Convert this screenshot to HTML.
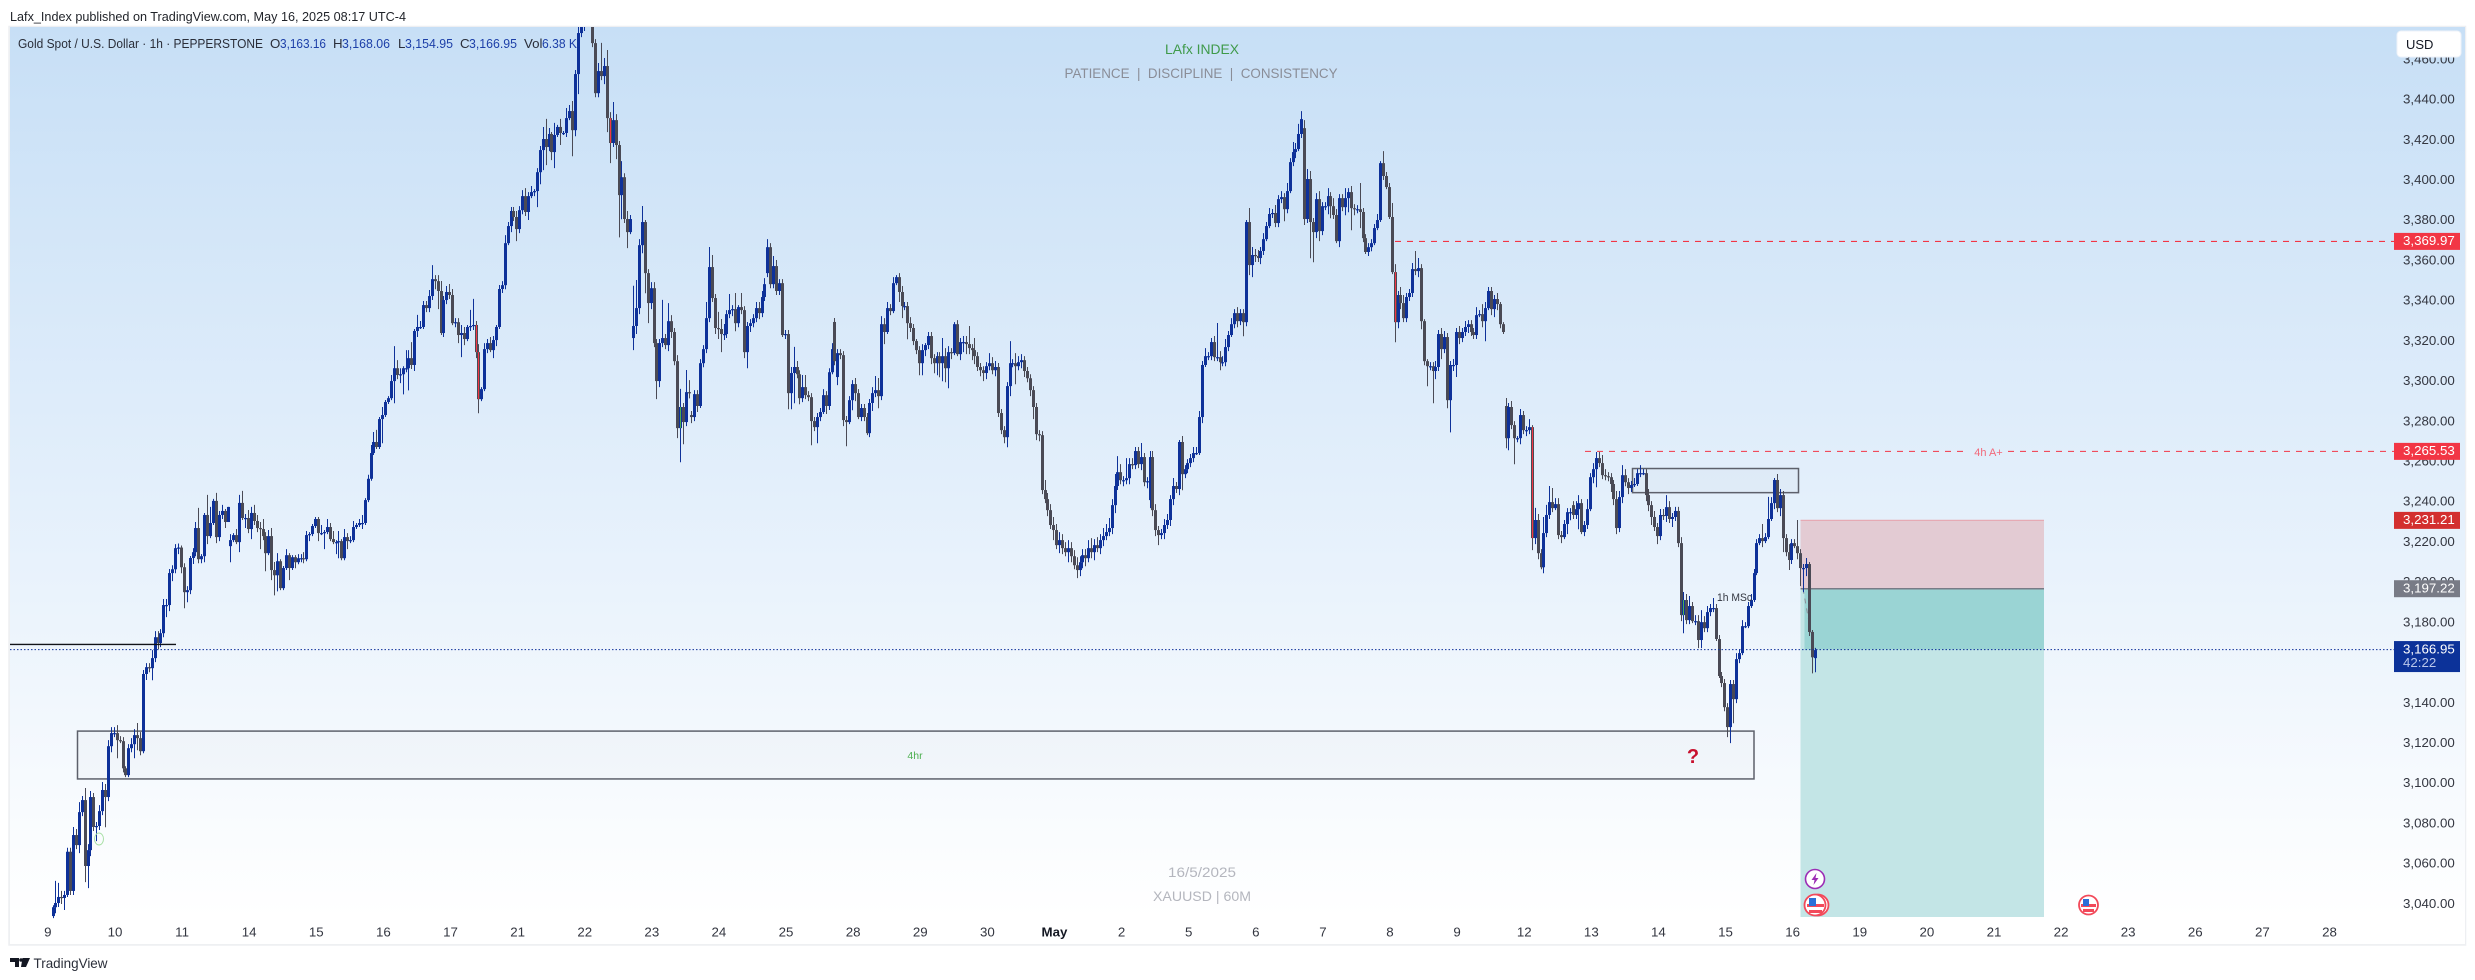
<!DOCTYPE html>
<html lang="en">
<head>
<meta charset="utf-8">
<title>Gold Spot / U.S. Dollar 1h chart</title>
<style>
html,body{margin:0;padding:0;background:#fff;width:2475px;height:980px;overflow:hidden}
svg{display:block;font-family:"Liberation Sans",sans-serif}
</style>
</head>
<body>
<svg id="chart" xmlns="http://www.w3.org/2000/svg" width="2475" height="980" viewBox="0 0 2475 980">
  <defs>
    <linearGradient id="paneBg" x1="0" y1="0" x2="0" y2="1">
      <stop offset="0" stop-color="#c7dff6"/>
      <stop offset="0.5" stop-color="#e3effb"/>
      <stop offset="0.97" stop-color="#ffffff"/>
      <stop offset="1" stop-color="#ffffff"/>
    </linearGradient>
    <clipPath id="paneClip"><rect x="10" y="27" width="2384" height="917"/></clipPath>
  </defs>

  <rect x="0" y="0" width="2475" height="980" fill="#ffffff"/>
  <text x="10" y="21" font-size="13.2" fill="#1f2228" textLength="396" lengthAdjust="spacingAndGlyphs">Lafx_Index published on TradingView.com, May 16, 2025 08:17 UTC-4</text>

  <rect x="9" y="26.5" width="2456.5" height="918.5" fill="#f0f1f4" stroke="#eeeff2" stroke-width="1.5"/>
  <rect x="10" y="27" width="2455" height="917" fill="url(#paneBg)"/>

  <g id="drawingsUnder" clip-path="url(#paneClip)"></g>
  <g id="candles" clip-path="url(#paneClip)"></g>
  <g id="drawingsOver"></g>
  <g id="xAxis"></g>
  <g id="yAxis"></g>
  <g id="badges"></g>

  <g font-size="13.3">
    <text x="18" y="48" fill="#2a2e39" textLength="245" lengthAdjust="spacingAndGlyphs">Gold Spot / U.S. Dollar · 1h · PEPPERSTONE</text>
    <text x="270" y="48" fill="#2a2e39">O</text>
    <text x="280" y="48" fill="#1c3fa8" textLength="46" lengthAdjust="spacingAndGlyphs">3,163.16</text>
    <text x="333" y="48" fill="#2a2e39">H</text>
    <text x="342" y="48" fill="#1c3fa8" textLength="48" lengthAdjust="spacingAndGlyphs">3,168.06</text>
    <text x="398" y="48" fill="#2a2e39">L</text>
    <text x="405" y="48" fill="#1c3fa8" textLength="48" lengthAdjust="spacingAndGlyphs">3,154.95</text>
    <text x="460" y="48" fill="#2a2e39">C</text>
    <text x="469" y="48" fill="#1c3fa8" textLength="48" lengthAdjust="spacingAndGlyphs">3,166.95</text>
    <text x="524" y="48" fill="#2a2e39">Vol</text>
    <text x="542" y="48" fill="#1c3fa8" textLength="35" lengthAdjust="spacingAndGlyphs">6.38 K</text>
  </g>

  <text x="1202" y="54" font-size="14" fill="#3f9a4a" text-anchor="middle" textLength="74" lengthAdjust="spacingAndGlyphs">LAfx INDEX</text>
  <text x="1201" y="78" font-size="14" fill="#8a8d97" text-anchor="middle" textLength="273" lengthAdjust="spacingAndGlyphs">PATIENCE&#160;&#160;|&#160;&#160;DISCIPLINE&#160;&#160;|&#160;&#160;CONSISTENCY</text>
  <text x="1202" y="877" font-size="14" fill="#b4b6be" text-anchor="middle" textLength="68" lengthAdjust="spacingAndGlyphs">16/5/2025</text>
  <text x="1202" y="901" font-size="14" fill="#b4b6be" text-anchor="middle" textLength="98" lengthAdjust="spacingAndGlyphs">XAUUSD | 60M</text>

  <g>
    <rect x="2397" y="31" width="64" height="26" rx="4" fill="#ffffff" stroke="#eef2f8"/>
    <text x="2406" y="49" font-size="13" fill="#131722">USD</text>
  </g>

  <g>
    <circle cx="1815" cy="879" r="9.5" fill="#ffffff" stroke="#9c2db5" stroke-width="1.6"/>
    <polygon points="1816.5,873 1811.5,880 1814.5,880 1813.5,885 1818.5,878 1815.5,878" fill="#9c2db5"/>
  </g>
  <g>
    <circle cx="1818" cy="905" r="10.5" fill="#ffffff" stroke="#f2495a" stroke-width="1.8"/>
    <circle cx="1815" cy="905" r="10.5" fill="#ffffff" stroke="#f2495a" stroke-width="1.8"/>
    <rect x="1807" y="904" width="17" height="3" fill="#f2495a"/>
    <rect x="1809" y="910" width="13" height="3" fill="#f2495a"/>
    <rect x="1809" y="898" width="7" height="8" fill="#2a6fd8"/>
  </g>
  <g>
    <circle cx="2088.5" cy="905" r="9.5" fill="#ffffff" stroke="#f2495a" stroke-width="1.8"/>
    <rect x="2081" y="904" width="15" height="3" fill="#f2495a"/>
    <rect x="2083" y="909" width="11" height="3" fill="#f2495a"/>
    <rect x="2083" y="899" width="6" height="7" fill="#2a6fd8"/>
  </g>

  <g>
    <path d="M10 958h9v9h-4v-5h-5z M22.5 958h7.5l-4 9h-5z" fill="#131722"/>
    <circle cx="21" cy="960" r="1.8" fill="#131722"/>
    <text x="33.5" y="968" font-size="14" fill="#2a2e39" textLength="74" lengthAdjust="spacingAndGlyphs">TradingView</text>
  </g>

<script>
// ---------- chart data ----------
var closes = [
3037.9,3040,3043,3042.5,3044,3065.5,3046,3073.8,3068.8,3085.2,
3091.2,3058.4,3066.3,3092.7,3077.8,3078.3,3085.7,3096.2,3092.7,3118,
3124.5,3124.5,3121,3120.5,3107,3103.6,3117,3119,3123.5,3122,
3115.5,3153.9,3157.3,3156.8,3161.8,3172.2,3169.3,3174.2,3188.2,3188.2,
3204.1,3206,3216.5,3216.8,3207,3194.6,3195.6,3211.6,3214.5,3226.5,
3211,3212.5,3233,3222.5,3229,3240,3222,3233,3235,3229.5,
3237,3220.5,3223,3219.5,3239,3231.5,3231.5,3226,3234,3230,
3226.5,3226,3222.5,3214,3222.5,3205.6,3203,3210,3196.6,3206.6,
3213,3206.6,3212,3209.5,3211.5,3211.5,3211,3223,3223.5,3227.5,
3231,3224,3224,3224.5,3227,3221,3219.5,3219.5,3220,3211.5,
3222,3220,3220.5,3227,3228,3229,3229,3240.4,3251,3263.8,
3269.3,3266.8,3280.7,3282.7,3289.2,3291.1,3299.6,3306,3302.6,3303,
3306,3306,3311,3307.6,3324.5,3326.5,3326.5,3337.4,3335.9,3341.9,
3350.3,3349.3,3344.4,3323.5,3339.9,3343.9,3342.4,3328.4,3328.9,3322.5,
3323.5,3320.5,3326.5,3327,3327.5,3314,3290.6,3295.6,3315.5,3318.5,
3315,3320,3326.5,3345.4,3347.3,3368.2,3376.7,3384.2,3381.2,3375.2,
3384.6,3391.6,3383.7,3391.6,3393.6,3394.1,3403.5,3414.5,3420,3416,
3422.5,3413.5,3422,3426,3423,3423,3430.4,3433.9,3424.4,3452.3,
3472.7,3475.7,3483,3486.6,3485,3467.7,3442.8,3453.8,3451.3,3456.3,
3430.4,3418,3429.4,3417,3392.1,3401,3380.2,3373.7,3380.2,3327,
3335.9,3367.2,3378.7,3353.3,3338.4,3345.8,3318.5,3299.6,3318.5,3321,
3317.5,3329.4,3324,3309.5,3276.2,3286.7,3279.2,3294.1,3294,3281.7,
3293.1,3287.2,3308.5,3315.5,3330.9,3356.3,3340.9,3326,3325.5,3323,
3323,3332.9,3334.9,3335.4,3328.4,3336.4,3334.9,3314,3327,3328.4,
3330.9,3335.9,3333.4,3341.4,3347.8,3366.2,3347.8,3356.8,3344.4,3348.3,
3322.5,3323,3293.6,3303.6,3306.6,3303,3291.1,3296.6,3292.6,3291.6,
3279.7,3276.7,3281.7,3284.2,3292.6,3287.2,3304,3315.5,3309.5,3313.5,
3312.5,3280.2,3279.2,3290.1,3298.1,3293.6,3281.7,3286.2,3281.7,3273.7,
3288.7,3293.6,3295.1,3292.1,3327.9,3324,3335.9,3334.4,3348.3,3351.3,
3343.9,3336.9,3336.9,3328.4,3326,3319.5,3315,3308.5,3315,3317.5,
3322,3311,3308.5,3312,3308.5,3312,3306,3314,3313.5,3327.9,
3313,3319,3319,3318,3316,3315,3312,3306.6,3305,3303.6,
3307,3308.5,3305,3306.6,3283.7,3275.2,3271.7,3297.1,3308.5,3308.5,
3307,3309,3310,3304.6,3301,3295.1,3286.7,3273.2,3272.7,3245.4,
3240.9,3235.4,3228,3225.5,3218,3220.5,3216.5,3214.5,3216.5,3212.5,
3208,3205.6,3209.5,3213,3211.5,3216.5,3214.5,3218,3216.5,3220.5,
3222.5,3224.5,3226.5,3237.9,3247.4,3254.3,3250.3,3250.3,3251.3,3258.3,
3257.8,3264.8,3258.3,3261.8,3249.3,3249.8,3261.8,3235.4,3225.5,3223,
3224,3228,3230.5,3240.9,3247.4,3245.9,3269.3,3253.3,3255.8,3258.8,
3261.3,3263.8,3263.8,3281.7,3307.6,3312,3312,3319,3311.5,3311.5,
3309,3309,3316.5,3322.5,3327.9,3333.4,3329.4,3333.4,3328.9,3378.7,
3357.3,3362.3,3361.8,3360.8,3364.3,3370.2,3376.7,3382.7,3383.2,3378.2,
3390.1,3391.1,3385.1,3394.1,3408.5,3413.5,3415,3422.5,3429.9,3380.2,
3400.1,3378.7,3373.7,3390.1,3374.2,3386.6,3386.6,3391.6,3386.6,3382.2,
3369.2,3390.6,3386.1,3390.6,3393.6,3385.6,3385.1,3385.1,3383.7,3370.7,
3363.8,3366.2,3368.2,3375.7,3379.7,3408,3401.6,3396.1,3381.2,3353.8,
3328.9,3342.4,3338.4,3330.9,3341.4,3343.4,3355.3,3354.3,3355.8,3329.4,
3309.5,3307,3307,3304.6,3306.6,3323,3315.5,3321.5,3290.1,3307.6,
3307.6,3324,3321,3324,3326.5,3327.9,3324,3322.5,3332.4,3332.9,
3329.4,3335.9,3344.4,3335.4,3340.4,3337.9,3327.9,3324,3271.2,3286.7,
3277.7,3271.2,3271.2,3282.7,3275.2,3275.2,3276.7,3221.5,3230.5,3214,
3207,3224,3233,3239.4,3236.4,3238.4,3223,3222,3228.5,3234.4,
3234.4,3233,3235.9,3238.9,3224.5,3228,3235.9,3251.8,3255.8,3261.3,
3258.8,3252.8,3252.3,3251.8,3248.4,3240.9,3226.5,3241.9,3252.8,3249.3,
3246.4,3247.9,3248.4,3253.8,3253.8,3253.8,3242.9,3237.9,3232,3227,
3222.5,3233,3232.5,3236.9,3231,3232,3235,3219,3183.2,3190.7,
3180.7,3187.7,3180.2,3180.2,3170.8,3179.7,3176.7,3184.7,3186.7,3186.7,
3171.3,3152.9,3149.4,3137.4,3127.5,3148.9,3141.4,3161.3,3164.3,3177.7,
3177.7,3187.7,3190.7,3204.1,3219,3221.5,3220,3222,3231,3238.9,
3250.4,3236.4,3242.9,3221.5,3214.5,3210.6,3219,3217.5,3214,3206.6,
3206.6,3208.6,3174.8,3162.2,3165.8
];
var upperWicks = [
1,11,7,3,2,2,2,4,3,5, 2,6,3,3,2,2,3,4,3,3, 3,3,4,2,2,1,2,3,3,6, 3,2,2,2,4,3,3,2,3,3,
2,2,2,2,1,2,2,1,2,3, 10,1,1,10,8,1,4,2,3,1, 0,3,1,3,4,6,2,4,3,4, 3,3,5,2,3,4,4,4,1,1,
3,1,1,1,2,2,3,2,1,1, 1,1,4,1,4,2,4,1,5,1, 4,2,2,3,1,2,4,1,2,4, 5,6,1,4,1,1,3,11,4,3,
1,9,4,8,1,6,3,2,2,3, 7,2,3,5,2,3,4,3,2,2, 4,3,1,8,13,2,4,1,3,2, 3,2,1,2,2,4,2,2,2,3,
2,3,4,2,3,1,2,2,6,10, 3,1,6,1,4,1,5,3,5,2, 3,4,4,3,3,3,2,4,14,4, 8,3,9,3,2,8,2,4,2,20,
14,3,8,1,2,3,3,2,2,19, 2,9,3,2,3,9,2,11,6,2, 2,2,2,2,8,10,6,2,8,5, 5,2,8,2,8,1,7,2,2,2,
2,3,3,3,3,4,2,5,3,2, 2,2,2,3,10,3,2,6,6,2, 2,2,2,2,3,2,2,3,2,2, 2,2,2,2,2,3,2,2,2,2,
2,3,7,6,4,3,3,2,3,1, 2,3,2,2,3,2,1,2,3,1, 2,2,2,2,2,9,4,3,2,1, 2,2,3,3,9,2,6,2,2,2,
2,5,3,3,2,2,2,2,11,2, 5,3,3,2,2,2,2,2,2,2, 5,3,3,4,3,4,3,3,4,3, 3,4,3,3,3,4,5,3,4,3,
4,4,5,3,6,8,4,2,10,3, 3,2,2,7,2,2,3,3,3,2, 2,3,3,2,4,2,1,3,2,2, 2,3,3,3,2,4,2,2,3,17,
3,3,4,2,3,2,3,2,2,1, 7,4,3,3,2,3,2,3,2,4, 2,3,2,4,2,5,3,5,4,4, 5,4,2,3,4,2,2,4,2,4,
3,2,2,5,2,3,2,2,13,2, 2,2,2,2,3,1,6,2,2,7, 4,2,4,4,2,2,3,9,5,2, 1,1,2,2,3,2,3,3,2,2,
3,2,3,2,3,2,2,2,4,2, 5,3,2,2,2,3,1,1,4,2, 3,2,1,3,2,2,4,1,6,3, 2,8,5,8,7,3,3,2,2,2,
2,2,4,4,2,2,5,2,3,3, 3,4,3,2,2,2,4,3,5,3, 2,2,3,2,4,2,2,3,2,3, 2,3,3,6,3,2,2,2,3,4,
3,5,2,3,3,6,3,3,2,5, 2,2,2,2,2,2,2,3,2,3, 2,2,3,2,2,2,7,2,11,3, 1,3,3,2,2,4,2,2,13,2,
2,3,1,1,1.11
];
var lowerWicks = [
1,3,2,3,6,1,2,2,2,4, 2,8,11,3,2,7,2,2,15,2, 3,2,9,1,2,1,1,2,7,6, 2,1,3,2,6,2,3,2,2,6,
3,4,2,3,3,8,5,2,3,2, 2,2,3,4,1,1,3,2,2,3, 0,8,1,1,5,1,5,2,5,2, 2,10,2,9,1,5,10,8,1,1,
1,6,1,3,1,2,2,1,3,1, 1,4,1,8,1,1,1,6,8,1, 1,4,1,1,1,1,3,1,1,1, 1,1,1,12,1,1,1,11,2,4,
10,2,11,2,3,3,1,1,2,2, 2,4,9,1,2,2,2,1,2,4, 11,3,1,2,2,3,7,1,1,2, 1,4,3,1,2,2,1,3,2,6,
2,2,2,4,1,2,8,6,10,9, 2,4,8,1,6,1,2,1,13,3, 10,2,2,2,2,2,2,2,2,4, 7,10,2,7,21,12,2,8,1,6,
4,3,4,10,10,3,2,9,3,2, 2,3,3,2,5,17,11,2,3,3, 2,3,1,2,2,2,2,3,5,9, 3,2,2,3,4,2,2,3,8,3,
2,2,3,2,2,2,2,2,2,2, 1,2,8,8,15,2,3,2,2,2, 12,2,8,2,1,4,2,1,2,4, 2,3,12,1,5,4,1,2,2,1,
2,4,2,6,2,6,1,2,1,1, 5,6,2,8,2,2,2,6,6,3, 2,3,5,6,7,9,7,10,3,1, 1,3,5,5,3,5,4,2,3,4,
3,2,2,3,2,2,3,5,5,2, 9,2,3,3,2,3,6,3,3,2, 2,3,2,5,2,4,3,2,5,3, 2,4,3,3,4,2,3,4,2,3,
3,2,2,3,4,2,2,3,2,3, 2,2,2,3,2,3,4,3,3,5, 2,3,2,3,3,2,3,8,2,2, 2,2,1,1,3,1,2,2,2,2,
4,2,2,2,1,2,3,2,7,2, 5,6,3,2,3,2,1,1,2,2, 2,2,6,2,1,2,3,1,2,3, 2,18,15,3,5,2,2,4,6,2,
1,3,2,4,7,11,3,2,8,2, 1,2,2,1,1,1,2,1,1,1, 10,3,3,2,2,2,2,2,3,4, 2,10,2,16,4,2,5,2,4,16,
3,6,3,2,2,3,2,2,2,1, 3,10,1,3,4,3,2,1,5,6, 2,13,2,3,2,3,2,6,3,3, 1,3,2,2,2,1,2,3,1,5,
4,2,2,10,1,2,2,1,3,9, 2,2,2,2,4,3,3,2,3,2, 3,2,1,1,2,1,3,3,4,2, 4,2,2,3,2,4,2,2,3,9,
2,2,1,2,4,4,2,2,2,2, 1,1,2,2,5,8,12,2,2,1, 1,1,1,1,1,1,3,1,1,1, 3,2,4,7,2,5,2,1,3,9,
12,4,2,8,7
];
// opens follow the previous close except where the picture shows a gap
var gapOpenBars = [0,61,199,219,245,268,269,376,429,498,521,604];
var gapOpenPrices = [3033.5,3217.5,3321,3282.7,3353.3,3329,3301.6,3240.4,3425.4,3287.2,3237.9,3161.8];
var redPaintedBars = [145,146,191,460,507];
var greenPaintedBars = [215,559];
var priceTicks = [3460,3440,3420,3400,3380,3360,3340,3320,3300,3280,3260,3240,3220,3200,3180,3140,3120,3100,3080,3060,3040];
var timeLabels = ["9","10","11","14","15","16","17","21","22","23","24","25","28","29","30","May","2","5","6","7","8","9","12","13","14","15","16","19","20","21","22","23","26","27","28"];
var swingHighLevel = 3369.97;
var fourHourLevel = 3265.53;
var stopLevel = 3231.21;
var entryLevel = 3197.22;
var lastPrice = 3166.95;
var oldSupportLevel = 3169.5;
var countdownText = "42:22";

// ---------- axis functions ----------
var NS = "http://www.w3.org/2000/svg";
function xScale(i){ return 53 + 2.9177 * i; }
function yScale(p){ return 903 - (p - 3040) * 2.0105; }
// horizontal levels and their badges sit a little under the tick-label centre line
function levelY(p){ return yScale(p) + 1.8; }
function timeLabelX(k){ return xScale(-2 + 23 * k) + 0.7; }
function fmtPrice(p){
  var s = p.toFixed(2);
  return s.charAt(0) + "," + s.slice(1);
}
function make(tag, attrs, parent){
  var el = document.createElementNS(NS, tag);
  for (var k in attrs) el.setAttribute(k, attrs[k]);
  parent.appendChild(el);
  return el;
}

var under = document.getElementById("drawingsUnder");
var over = document.getElementById("drawingsOver");
var candleLayer = document.getElementById("candles");
var xAxis = document.getElementById("xAxis");
var yAxis = document.getElementById("yAxis");
var badgeLayer = document.getElementById("badges");

// ---------- drawings beneath candles ----------
var zone4h = make("rect", {x:77.5, y:levelY(3126.4), width:1676.5, height:levelY(3102.6)-levelY(3126.4), fill:"rgba(120,123,134,0.03)", stroke:"#5d606b", "stroke-width":1.5}, under);



var zoneTop = make("rect", {x:1632.5, y:levelY(3257), width:166, height:levelY(3245)-levelY(3257), fill:"rgba(120,123,134,0.03)", stroke:"#5d606b", "stroke-width":1.5}, under);



var stopZone = make("rect", {x:1800.5, y:levelY(stopLevel), width:243.5, height:levelY(entryLevel)-levelY(stopLevel), fill:"#e3cbd3"}, under);



var stopEdge = make("line", {x1:1800.5, x2:2044, y1:levelY(stopLevel), y2:levelY(stopLevel), stroke:"#e6aab4", "stroke-width":1.2}, under);



var targetZone = make("rect", {x:1800.5, y:levelY(entryLevel), width:243.5, height:917-levelY(entryLevel), fill:"#c3e5e6"}, under);



var runZone = make("rect", {x:1804.5, y:levelY(entryLevel), width:239.5, height:levelY(lastPrice)-levelY(entryLevel), fill:"#9ad4d4"}, under);



var entryLine = make("line", {x1:1800.5, x2:2044, y1:levelY(entryLevel), y2:levelY(entryLevel), stroke:"#787b86", "stroke-width":1.5}, under);



var path1 = make("line", {x1:1803, x2:1814, y1:levelY(entryLevel), y2:levelY(lastPrice), stroke:"#8a8d97", "stroke-width":1, "stroke-dasharray":"5 5"}, under);



var swingLine = make("line", {x1:1395, x2:2394, y1:levelY(swingHighLevel), y2:levelY(swingHighLevel), stroke:"#f23645", "stroke-width":1.1, "stroke-dasharray":"6 6"}, under);



var fourHLine = make("line", {x1:1585, x2:1968, y1:levelY(fourHourLevel), y2:levelY(fourHourLevel), stroke:"#f23645", "stroke-width":1.1, "stroke-dasharray":"6 6"}, under);



var fourHLine2 = make("line", {x1:2008, x2:2394, y1:levelY(fourHourLevel), y2:levelY(fourHourLevel), stroke:"#f23645", "stroke-width":1.1, "stroke-dasharray":"6 6"}, under);



// ---------- candles ----------
var blue = "#0e3199";
var grey = "#4a4a55";
closes.forEach(function(c, i){
  var gapAt = gapOpenBars.indexOf(i);
  var o = gapAt >= 0 ? gapOpenPrices[gapAt] : closes[i - 1];
  var top = Math.max(o, c);
  var bot = Math.min(o, c);
  var col = c >= o ? blue : grey;
  var cx = xScale(i);
  var wx = Math.round(cx - 0.5) + 0.5;
  var wick = make("line", {x1:wx, x2:wx, y1:yScale(top + (upperWicks[i] || 0)), y2:yScale(bot - (lowerWicks[i] || 0)), stroke:col, "stroke-width":1}, candleLayer);
  
  
  var h = Math.max(yScale(bot) - yScale(top), 1.2);
  var body = make("rect", {x:wx - 1.5, y:yScale(top), width:3, height:h, fill:col}, candleLayer);
  
  
  var paint = redPaintedBars.indexOf(i) >= 0 ? "#f23645" : (greenPaintedBars.indexOf(i) >= 0 ? "#4caf50" : null);
  if (paint) {
    var mark = make("rect", {x:wx - 0.5, y:yScale(top), width:1, height:h, fill:paint}, candleLayer);
    
    
  }
});

// ---------- drawings above candles ----------
var oldLine = make("line", {x1:10, x2:176, y1:levelY(oldSupportLevel), y2:levelY(oldSupportLevel), stroke:"#111318", "stroke-width":1.4}, over);



var lastLine = make("line", {x1:10, x2:2394, y1:levelY(lastPrice), y2:levelY(lastPrice), stroke:"#0e3199", "stroke-width":1, "stroke-dasharray":"1.5 2"}, over);



var circ = make("ellipse", {cx:99, cy:839, rx:4.5, ry:6, fill:"none", stroke:"#a9e0a6", "stroke-width":1}, over);



var lbl4hr = make("text", {x:915, y:759, "font-size":10.5, fill:"#4caf50", "text-anchor":"middle"}, over);


lbl4hr.textContent = "4hr";

var lbl4hA = make("text", {x:1988.5, y:456, "font-size":11, fill:"#f2697a", "text-anchor":"middle"}, over);


lbl4hA.textContent = "4h A+";

var lblMsc = make("text", {x:1717, y:601, "font-size":11, fill:"#333640", textLength:35, lengthAdjust:"spacingAndGlyphs"}, over);


lblMsc.textContent = "1h MSc";

var q = make("text", {x:1693, y:763, "font-size":20, "font-weight":"bold", fill:"#c8102e", "text-anchor":"middle"}, over);


q.textContent = "?";

// ---------- axes ----------
priceTicks.forEach(function(p){
  var t = make("text", {x:2403, y:yScale(p) + 4.8, "font-size":13.3, fill:"#333640"}, yAxis);
  
  
  t.textContent = fmtPrice(p);
});
timeLabels.forEach(function(label, k){
  var isMonth = label === "May";
  var t = make("text", {x:timeLabelX(k), y:936.5, "font-size":13.3, fill:isMonth ? "#131722" : "#333640", "text-anchor":"middle", "font-weight":isMonth ? "bold" : "normal"}, xAxis);
  
  
  t.textContent = label;
});

// ---------- price badges ----------
var badgePrices = [swingHighLevel, fourHourLevel, stopLevel, entryLevel];
var badgeColors = ["#f23645", "#f23645", "#d32f2f", "#787b86"];
var badgeNames = ["swing-high-price-badge", "four-hour-price-badge", "stop-price-badge", "entry-price-badge"];
badgePrices.forEach(function(p, k){
  var yc = levelY(p);
  var r = make("rect", {x:2394, y:yc - 8.5, width:66, height:17, fill:badgeColors[k]}, badgeLayer);
  
  
  var t = make("text", {x:2403, y:yc + 3.8, "font-size":13.3, fill:"#ffffff"}, badgeLayer);
  
  
  t.textContent = fmtPrice(p);
});
var lastY = levelY(lastPrice);
var lastBox = make("rect", {x:2394, y:lastY - 8.5, width:66, height:31, fill:"#0c3299"}, badgeLayer);


var lastText = make("text", {x:2403, y:lastY + 3.8, "font-size":13.3, fill:"#ffffff"}, badgeLayer);


lastText.textContent = fmtPrice(lastPrice);
var cd = make("text", {x:2403, y:lastY + 17.5, "font-size":13.3, fill:"#b9c6ea"}, badgeLayer);


cd.textContent = countdownText;
</script>
</svg>
</body>
</html>
